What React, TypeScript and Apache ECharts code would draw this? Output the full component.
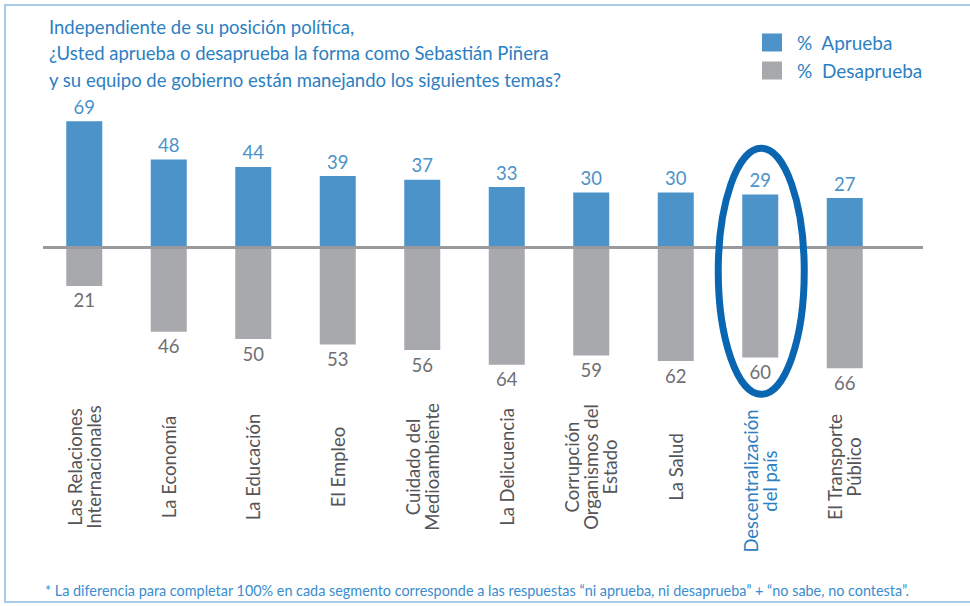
import React, { useEffect, useRef } from "react";
import * as echarts from "echarts";

const categories = [
  "Las Relaciones\nInternacionales",
  "La Economía",
  "La Educación",
  "El Empleo",
  "Cuidado del\nMedioambiente",
  "La Delicuencia",
  "Corrupción\nOrganismos del\nEstado",
  "La Salud",
  "Descentralización\ndel país",
  "El Transporte\nPúblico",
];
const aprueba = [69, 48, 44, 39, 37, 33, 30, 30, 29, 27];
const desaprueba = [21, 46, 50, 53, 56, 64, 59, 62, 60, 66];
const highlightIndex = 8;

const titleText =
  "Independiente de su posición política,\n¿Usted aprueba o desaprueba la forma como Sebastián Piñera\ny su equipo de gobierno están manejando los siguientes temas?";
const footnote =
  "* La diferencia para completar 100% en cada segmento corresponde a las respuestas “ni aprueba, ni desaprueba” + “no sabe, no contesta”.";

const BLUE = "#4b93c9";
const GRAY = "#a8a9ac";
const TEXT_BLUE = "#2c7fc2";
const FONT = "Lato, 'Open Sans', sans-serif";

export default function App() {
  const ref = useRef<HTMLDivElement>(null);
  useEffect(() => {
    if (!ref.current) return;
    const chart = echarts.init(ref.current, null, { renderer: "svg" });
    chart.setOption({
      animation: false,
      backgroundColor: "#fff",
      textStyle: { fontFamily: FONT },
      title: {
        text: titleText,
        left: 44,
        top: 9,
        textStyle: {
          fontFamily: FONT,
          fontSize: 18.5,
          fontWeight: "normal",
          color: TEXT_BLUE,
          lineHeight: 26.3,
        },
      },
      legend: {
        orient: "vertical",
        left: 762,
        top: 33,
        padding: 0,
        itemWidth: 20,
        itemHeight: 18,
        itemGap: 9,
        icon: "rect",
        textStyle: {
          fontFamily: FONT,
          fontSize: 19,
          color: TEXT_BLUE,
          padding: [0, 0, 0, 10],
        },
        data: ["%  Aprueba", "%  Desaprueba"],
      },
      grid: { left: 42, width: 845, top: 101, height: 293, outerBoundsMode: "none" },
      xAxis: {
        type: "category",
        data: categories,
        position: "bottom",
        axisLine: { show: false, onZero: false },
        axisTick: { show: false },
        axisLabel: {
          interval: 0,
          rotate: 90,
          align: "center",
          verticalAlign: "middle",
          margin: 73,
          fontFamily: FONT,
          fontSize: 18.5,
          lineHeight: 19,
          color: "#555558",
          formatter: (value: string, index: number) =>
            index === highlightIndex ? "" : value,
        },
      },
      yAxis: {
        type: "value",
        min: -80,
        max: 80,
        show: false,
        splitLine: { show: false },
      },
      series: [
        {
          name: "%  Aprueba",
          type: "bar",
          data: aprueba,
          barWidth: 36,
          barGap: "-100%",
          itemStyle: { color: BLUE },
          label: {
            show: true,
            position: "top",
            distance: 5,
            fontFamily: FONT,
            fontSize: 18.5,
            color: BLUE,
          },
        },
        {
          name: "%  Desaprueba",
          type: "bar",
          data: desaprueba.map((v) => -v),
          barWidth: 36,
          itemStyle: { color: GRAY },
          label: {
            show: true,
            position: "bottom",
            distance: 5,
            fontFamily: FONT,
            fontSize: 18.5,
            color: "#6e6f72",
            formatter: (p: any) => String(Math.abs(p.value)),
          },
        },
      ],
    });

    const zeroY = chart.convertToPixel({ yAxisIndex: 0 }, 0) as number;
    const hx = chart.convertToPixel({ xAxisIndex: 0 }, highlightIndex) as number;
    const hy = chart.convertToPixel({ yAxisIndex: 0 }, -13) as number;
    const axisBottom = chart.convertToPixel({ yAxisIndex: 0 }, -80) as number;

    chart.setOption({
      graphic: [
        {
          type: "rect",
          shape: { x: 5, y: 5, width: 980, height: 597 },
          style: { fill: "none", stroke: "#a9cbe8", lineWidth: 2 },
          silent: true,
        },
        {
          type: "line",
          shape: { x1: 43, y1: zeroY, x2: 923, y2: zeroY },
          style: { stroke: "#9a9a9c", lineWidth: 3 },
          z: 10,
          silent: true,
        },
        {
          type: "ellipse",
          shape: { cx: hx + 1, cy: hy, rx: 43, ry: 123 },
          style: { fill: "none", stroke: "#0b66b2", lineWidth: 7 },
          z: 20,
          silent: true,
        },
        {
          type: "text",
          x: hx,
          y: axisBottom + 87,
          rotation: Math.PI / 2,
          style: {
            text: categories[highlightIndex],
            fontFamily: FONT,
            fontSize: 18.5,
            lineHeight: 19,
            fill: TEXT_BLUE,
            align: "center",
            verticalAlign: "middle",
          },
          silent: true,
        },
        {
          type: "text",
          x: 45,
          y: 590,
          style: {
            text: footnote,
            fontFamily: FONT,
            fontSize: 14.4,
            fill: "#3a8dce",
            verticalAlign: "middle",
          },
          silent: true,
        },
      ],
    });

    return () => chart.dispose();
  }, []);
  return <div ref={ref} style={{ width: 970, height: 606, position: "absolute", left: 0, top: 0 }} />;
}
